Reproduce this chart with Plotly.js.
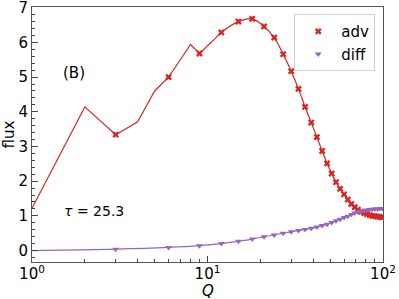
<!DOCTYPE html>
<html>
<head>
<meta charset="utf-8">
<script src="https://cdn.plot.ly/plotly-3.0.1.min.js"></script>
<style>html,body{margin:0;padding:0;background:#fff;}#chart{width:399px;height:299px;}</style>
</head>
<body>
<div id="chart"></div>
<script>
// Marker positions (every 3rd Q)
const markerQ = [3,6,9,12,15,18,21,24,27,30,33,36,39,42,45,48,51,54,57,60,63,66,69,72,75,78,81,84,87,90,93,96,99];
const advMarkers = [3.34,5.0,5.68,6.29,6.6,6.68,6.46,6.14,5.66,5.17,4.66,4.14,3.69,3.27,2.87,2.51,2.22,1.97,1.78,1.62,1.47,1.34,1.25,1.18,1.12,1.08,1.05,1.02,1.0,0.99,0.98,0.97,0.96];
const diffMarkers = [0.04,0.09,0.14,0.2,0.27,0.33,0.4,0.45,0.5,0.54,0.58,0.61,0.64,0.68,0.72,0.76,0.81,0.86,0.9,0.95,0.99,1.04,1.08,1.11,1.13,1.15,1.17,1.18,1.19,1.2,1.2,1.21,1.21];
// Early (low Q) part of the adv line, every integer Q
const advEarlyQ = [1,2,3,4,5,6,7,8,9];
const advEarly = [1.22,4.14,3.34,3.71,4.6,5.0,5.5,5.94,5.68];
// Smooth part of adv line
const advSmoothQ = [9,10,11].concat(markerQ.slice(3)).concat([100]);
const advSmooth = [5.68,5.9,6.1].concat(advMarkers.slice(3)).concat([0.96]);
// Diff line
const diffLineQ = [1].concat(markerQ).concat([100]);
const diffLine = [0.0].concat(diffMarkers).concat([1.21]);
const xTickVals = [1,10,100];
const xTickText = ['10<sup>0</sup>','10<sup>1</sup>','10<sup>2</sup>'];
const yTickVals = [0,1,2,3,4,5,6,7];

const red = '#d62728', purple = '#9467bd';
const traces = [
  {x: advEarlyQ, y: advEarly, mode:'lines', line:{color:red,width:1.2}, showlegend:false, hoverinfo:'skip'},
  {x: advSmoothQ, y: advSmooth, mode:'lines', line:{color:red,width:1.2,shape:'spline'}, showlegend:false, hoverinfo:'skip'},
  {x: diffLineQ, y: diffLine, mode:'lines', line:{color:purple,width:1.2,shape:'spline'}, showlegend:false, hoverinfo:'skip'},
  {x: markerQ, y: advMarkers, mode:'markers', name:'adv', marker:{symbol:'x', size:6, color:red}},
  {x: markerQ, y: diffMarkers, mode:'markers', name:'diff', marker:{symbol:'triangle-down', size:6, color:purple}}
];
const F = 'DejaVu Sans';
const layout = {
  width:399, height:299,
  margin:{l:32, r:16, t:7, b:37},
  paper_bgcolor:'#fff', plot_bgcolor:'#fff',
  font: {family:F, size:15, color:'#000'},
  showlegend:true,
  legend:{x:0.978, y:0.972, xanchor:'right', yanchor:'top', bgcolor:'#fff', bordercolor:'#d0d0d0', borderwidth:1, font:{family:F, size:15}, itemwidth:36, tracegroupgap:2},
  xaxis:{type:'log', range:[0,2], tickvals:xTickVals, ticktext:xTickText, ticks:'inside', ticklen:6, tickcolor:'#444', showline:true, linecolor:'#555', linewidth:1, mirror:true, showgrid:false, zeroline:false,
    ticklabeloverflow:'allow', ticklabelstandoff:-2,
    minor:{ticks:'inside', ticklen:3, tickcolor:'#444', dtick:'D1', showgrid:false},
    tickfont:{family:F, size:15}},
  yaxis:{range:[-0.33,7.02], tickvals:yTickVals, ticks:'inside', ticklen:6, tickcolor:'#444', showline:true, linecolor:'#555', linewidth:1, mirror:true, showgrid:false, zeroline:false,
    ticklabeloverflow:'allow',
    minor:{ticks:'inside', ticklen:3, tickcolor:'#444', dtick:0.2, showgrid:false},
    title:{text:'flux', font:{family:F, size:15}, standoff:4}, tickfont:{family:F, size:15}},
  annotations:[
    {text:'<i>Q</i>', xref:'paper', yref:'paper', x:0.5, y:-0.113, xanchor:'center', yanchor:'middle', showarrow:false, font:{family:F, size:15}},
    {text:'(B)', xref:'paper', yref:'paper', x:0.119, y:0.742, xanchor:'center', yanchor:'middle', showarrow:false, font:{family:F, size:15}},
    {text:'<i>τ</i> = 25.3', xref:'paper', yref:'paper', x:0.176, y:0.2, xanchor:'center', yanchor:'middle', showarrow:false, font:{family:F, size:14}}
  ]
};
Plotly.newPlot('chart', traces, layout, {displayModeBar:false, staticPlot:true});
</script>
</body>
</html>
